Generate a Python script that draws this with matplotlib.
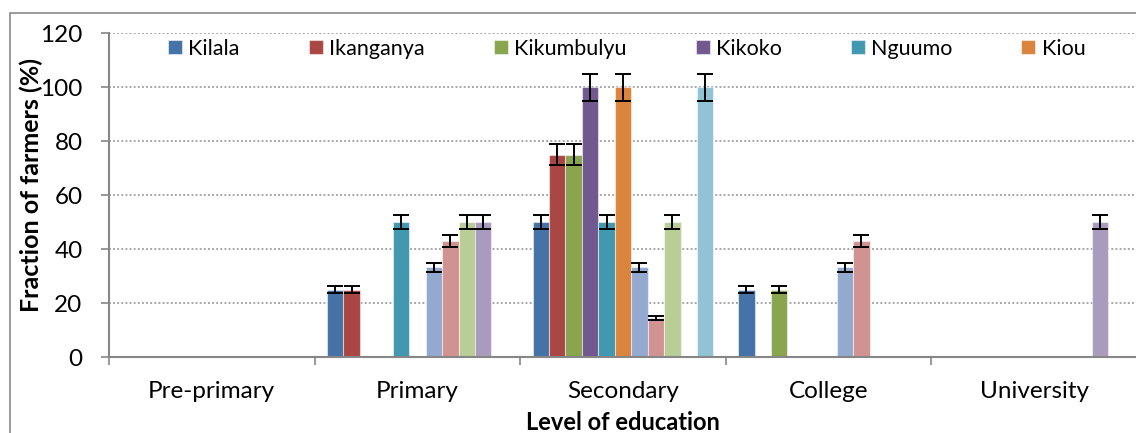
import numpy as np
import matplotlib.pyplot as plt
import matplotlib.patches as patches

# Data
levels = ["Pre-primary", "Primary", "Secondary", "College", "University"]
kilala = [0, 25, 50, 25, 0]
ikanganya = [0, 25, 75, 0, 0]
kikumbulyu = [0, 0, 75, 25, 0]
kikoko = [0, 0, 100, 0, 0]
nguumo = [0, 50, 50, 0, 0]
kiou = [0, 0, 100, 0, 0]
series7 = [0, 33.3, 33.3, 33.3, 0]
series8 = [0, 42.9, 14.3, 42.9, 0]
series9 = [0, 50, 50, 0, 0]
series10 = [0, 50, 0, 0, 50]
series11 = [0, 0, 100, 0, 0]
err_frac = 0.05  # error bars are 5% of the value

names = ["Kilala", "Ikanganya", "Kikumbulyu", "Kikoko", "Nguumo", "Kiou",
         "Series7", "Series8", "Series9", "Series10", "Series11"]
values = [kilala, ikanganya, kikumbulyu, kikoko, nguumo, kiou,
          series7, series8, series9, series10, series11]
colors = ["#4572A7", "#AA4643", "#89A54E", "#71588F", "#4198AF", "#DB843D",
          "#93A9CF", "#D19392", "#B9CD96", "#A99BBD", "#91C3D5"]

plt.rcParams['font.family'] = ['Lato', 'DejaVu Sans']

fig = plt.figure(figsize=(11.36, 4.33), dpi=100)
ax = fig.add_axes([109 / 1136, 1 - 357 / 433, 1028 / 1136, 324 / 433])

n = len(names)
w = 1 / (n + 1.5)
x = np.arange(len(levels))
handles = []
for j, (name, vals, col) in enumerate(zip(names, values, colors)):
    vals = np.array(vals, dtype=float)
    pos = x + (j - (n - 1) / 2) * w
    b = ax.bar(pos, vals, width=w, color=col, edgecolor=(1, 1, 1, 0.5),
               linewidth=0.8, zorder=2)
    handles.append(b)
    m = vals > 0
    ax.errorbar(pos[m], vals[m], yerr=vals[m] * err_frac, fmt='none',
                ecolor='black', elinewidth=1.4, capsize=6, capthick=1.4, zorder=3)

ax.set_xlim(-0.5, len(levels) - 0.5)
ax.set_ylim(0, 120)
ax.set_yticks(np.arange(0, 121, 20))
ax.yaxis.grid(True, linestyle=(0, (1.2, 1.5)), color='#8c8c8c', linewidth=1.1, zorder=0)
ax.set_axisbelow(True)

ax.set_xticks(x)
ax.set_xticklabels(levels)
ax.set_xticks(np.arange(-0.5, len(levels), 1), minor=True)
ax.tick_params(axis='x', which='major', length=0, pad=17, labelsize=17.5)
ax.tick_params(axis='x', which='minor', length=6, width=1.2, color='#868686')
ax.tick_params(axis='y', length=6, width=1.2, color='#868686', labelsize=17.5, pad=13)

for side in ['top', 'right']:
    ax.spines[side].set_visible(False)
for side in ['left', 'bottom']:
    ax.spines[side].set_color('#868686')
    ax.spines[side].set_linewidth(1.5)

ax.set_ylabel("Fraction of farmers (%)", fontsize=18, fontweight='bold')
ax.yaxis.set_label_coords(-0.064, 0.53)
ax.set_xlabel("Level of education", fontsize=17, fontweight='bold', labelpad=7)

ax.legend(handles[:6], names[:6], ncol=6, loc='upper left',
          bbox_to_anchor=((168 - 109) / 1028, 0.982), frameon=False, fontsize=15.5,
          handlelength=0.65, handleheight=0.65, handletextpad=0.3,
          columnspacing=3.2, borderaxespad=0, borderpad=0)

# outer chart frame (cropped)
fig.patches.append(patches.Rectangle((10 / 1136, -0.1), 2, 1 - 13 / 433 + 0.1,
                                     transform=fig.transFigure, fill=False,
                                     edgecolor='#8a8a8a', linewidth=1.2))

fig.savefig("out.png", dpi=100)
